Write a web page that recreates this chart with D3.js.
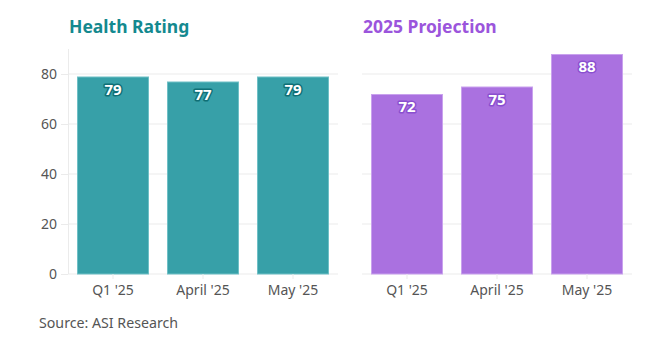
<!DOCTYPE html>
<html><head><meta charset="utf-8">
<script src="https://cdn.jsdelivr.net/npm/d3@7"></script>
<style>body{margin:0;background:#fff;} svg{display:block;}</style>
</head><body>
<svg id="c" width="672" height="340"></svg>
<script>
const categories = ["Q1 '25", "April '25", "May '25"];
const healthValues = [79, 77, 79];
const projectionValues = [72, 75, 88];
const yTicks = [0, 20, 40, 60, 80];
const titles = ["Health Rating", "2025 Projection"];
const sourceText = "Source: ASI Research";

const svg = d3.select("#c");
const font = "'Noto Sans', 'Open Sans', sans-serif";
const plotTop = 49, plotBottom = 274;
const y = d3.scaleLinear().domain([0, 90]).range([plotBottom, plotTop]);

const panels = [
  {title: titles[0], values: healthValues, x0: 68, x1: 338, fill: "#37a0a8", stroke: "#6fc0c6", halo: "#0f6f76", titleColor: "#14898f", yAxis: true},
  {title: titles[1], values: projectionValues, x0: 362, x1: 632, fill: "#aa71e0", stroke: "#c9a2ee", halo: "#8a4fcf", titleColor: "#9b55dc", yAxis: false}
];

panels.forEach(p => {
  const g = svg.append("g");
  const x = d3.scaleBand().domain(categories).range([p.x0, p.x1]).paddingInner(0.2).paddingOuter(0.1);
  g.selectAll("line.grid").data(yTicks).join("line")
    .attr("x1", p.x0).attr("x2", p.x1)
    .attr("y1", d => y(d)).attr("y2", d => y(d))
    .attr("stroke", "#ebebeb").attr("stroke-width", 1);
  if (p.yAxis) {
    g.append("line").attr("x1", p.x0 + 0.5).attr("x2", p.x0 + 0.5).attr("y1", plotTop).attr("y2", plotBottom)
      .attr("stroke", "#ebebeb");
    const ya = d3.axisLeft(y).tickValues(yTicks).tickSize(7).tickPadding(4);
    const ag = g.append("g").attr("transform", `translate(${p.x0},0)`).call(ya);
    ag.select(".domain").remove();
    ag.selectAll(".tick line").attr("stroke", "#ebebeb");
    ag.selectAll(".tick text").attr("fill", "#555").style("font-family", font).style("font-size", "14px");
  }
  g.selectAll("rect").data(p.values).join("rect")
    .attr("x", (d, i) => x(categories[i]) + 0.5)
    .attr("width", x.bandwidth() - 1)
    .attr("y", d => y(d) + 0.5)
    .attr("height", d => y(0) - y(d) - 0.5)
    .attr("fill", p.fill).attr("stroke", p.stroke).attr("stroke-width", 1);
  g.selectAll("text.val").data(p.values).join("text")
    .attr("class", "val")
    .attr("x", (d, i) => x(categories[i]) + x.bandwidth() / 2)
    .attr("y", d => y(d) + 18)
    .attr("text-anchor", "middle")
    .style("font-family", font).style("font-size", "15px").style("font-weight", "bold")
    .attr("fill", "#fff").attr("stroke", p.halo).attr("stroke-width", 3)
    .attr("paint-order", "stroke").attr("stroke-linejoin", "round")
    .text(d => d);
  const xa = d3.axisBottom(x).tickSize(5).tickPadding(6);
  const xg = g.append("g").attr("transform", `translate(0,${plotBottom})`).call(xa);
  xg.select(".domain").remove();
  xg.selectAll(".tick line").attr("stroke", "#ebebeb");
  xg.selectAll(".tick text").attr("fill", "#555").style("font-family", font).style("font-size", "14px");
  svg.append("text").attr("x", p.x0 + 1).attr("y", 33)
    .style("font-family", font).style("font-size", "17.5px").style("font-weight", "bold")
    .attr("fill", p.titleColor).text(p.title);
});

svg.append("text").attr("x", 39).attr("y", 328)
  .style("font-family", font).style("font-size", "14.2px").attr("fill", "#555").text(sourceText);
</script>
</body></html>
